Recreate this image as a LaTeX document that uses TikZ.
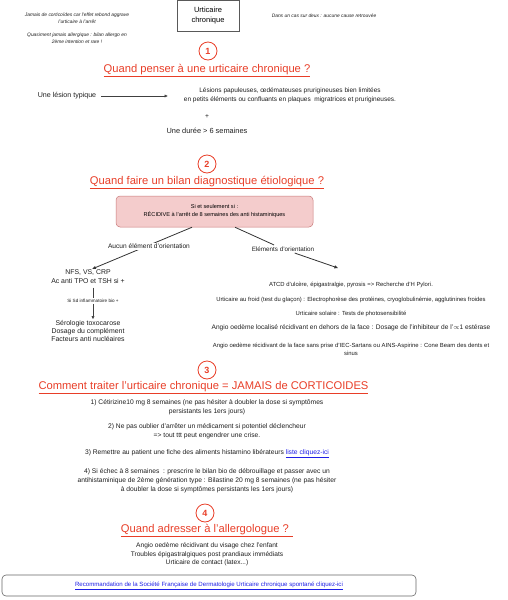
\documentclass[tikz,border=0pt]{standalone}
\usepackage{fontspec}
\setmainfont{Liberation Sans}
\usepackage{xcolor}
\usetikzlibrary{arrows.meta,positioning}
\definecolor{headred}{RGB}{232,62,40}
\definecolor{pinkfill}{RGB}{244,204,204}
\definecolor{pinkline}{RGB}{200,120,120}
\definecolor{linkblue}{RGB}{30,30,230}
\definecolor{txtgray}{RGB}{30,30,30}

\newcommand{\fs}[2]{\fontsize{#1}{#2}\selectfont}

\begin{document}
\begin{tikzpicture}[x=1pt,y=-1pt,
  txt/.style={align=center,text=txtgray,inner sep=1pt,font=\fs{6.7}{9}},
  note/.style={align=center,text=txtgray,inner sep=1pt,font=\fs{4.9}{7}\itshape},
  heading/.style={text=headred,inner sep=1pt,font=\fs{11.2}{13}},
  num/.style={circle,draw=headred,line width=0.8pt,minimum size=18pt,inner sep=0pt,
              text=headred,font=\fs{9}{10}\bfseries},
  tbox/.style={draw=black!65,line width=0.5pt,minimum width=62pt,minimum height=31pt,
               align=center,font=\fs{7.5}{10}},
  pbox/.style={draw=pinkline,fill=pinkfill,rounded corners=4pt,line width=0.5pt,
               minimum width=197pt,minimum height=31pt,align=center,font=\fs{5.6}{8}},
  lbox/.style={draw=black!60,rounded corners=4pt,line width=0.6pt,
               minimum width=414pt,minimum height=21pt,font=\fs{6.1}{8}},
  arr/.style={-{Triangle[length=3.2pt,width=2.8pt]},line width=0.6pt,draw=black!75},
  link/.style={line width=0.8pt,draw=black!80},
  lbl/.style={align=center,text=txtgray,inner sep=1.5pt}
]
\useasboundingbox (0,0) rectangle (508,600);

% header
\node[tbox] (uc) at (208,16) {Urticaire\\chronique};
\node[note] (rebond) at (77,18.5) {Jamais de corticoïdes car l'effet rebond aggrave\\l'urticaire à l'arrêt};
\node[note] (allergo) at (77,38.5) {Quasiment jamais allergique : bilan allergo en\\2ème intention et rare !};
\node[note] (cause) at (324,16) {Dans un cas sur deux : aucune cause retrouvée};

% 1
\node[num] (c1) at (208,51) {1};
\node[heading] (h1) at (207,71) {\underline{Quand penser à une urticaire chronique ?}};
\node[txt,font=\fs{7.1}{9}] (lesion) at (67,96) {Une lésion typique};
\node[txt,font=\fs{6.5}{9}] (desc) at (290,95.5) {Lésions papuleuses, œdémateuses prurigineuses bien limitées\\en petits éléments ou confluants en plaques\ \ migratrices et prurigineuses.};
\node[txt] (plus) at (207,117) {+};
\node[txt,font=\fs{7.4}{9}] (duree) at (207,131) {Une durée > 6 semaines};
\draw[arr,shorten <=4pt,shorten >=15pt] (lesion) -- (desc.west |- lesion);

% 2
\node[num] (c2) at (207,164) {2};
\node[heading] (h2) at (207,183) {\underline{Quand faire un bilan diagnostique étiologique ?}};
\node[pbox] (recid) at (214.5,211.5) {Si et seulement si :\\RÉCIDIVE à l'arrêt de 8 semaines des anti histaminiques};
\node[txt,font=\fs{6.9}{9}] (nfs) at (88,277) {NFS, VS, CRP\\Ac anti TPO et TSH si +};
\node[txt,font=\fs{4.6}{6}] (sd) at (93,301) {Si Sd inflammatoire bio +};
\node[txt,font=\fs{6.9}{8}] (sero) at (88,331) {Sérologie toxocarose\\Dosage du complément\\Facteurs anti nucléaires};
\node[txt,font=\fs{5.9}{8}] (atcd) at (351,285) {ATCD d'ulcère, épigastralgie, pyrosis => Recherche d'H Pylori.};
\draw[link,-{Triangle[length=3.6pt,width=3pt]}] (recid.215.8) -- (nfs.62);
\node[lbl,fill=white,font=\fs{6.6}{8}] (aucun) at (149,246.5) {Aucun élément d'orientation};
\node[lbl,font=\fs{6.3}{8}] (elem) at (283,249) {Eléments d'orientation};
\draw[link] ([xshift=20.5pt]recid.south) -- (elem);
\draw[link,-{Triangle[length=3.6pt,width=3pt]}] (elem) -- ([xshift=-13pt,yshift=13pt]atcd.north);
\draw[line width=0.6pt,draw=black!75,shorten <=2.5pt] (nfs.south -| sd.north) -- (sd.north);
\draw[arr] (sd.south) -- (sero.north -| sd.south);

\node[txt,font=\fs{5.9}{8}] (froid) at (351,300) {Urticaire au froid (test du glaçon) : Electrophorèse des protéines, cryoglobulinémie, agglutinines froides};
\node[txt,font=\fs{5.9}{8}] (solaire) at (351,314) {Urticaire solaire : Tests de photosensibilité};
\node[txt,font=\fs{6.6}{8}] (angio1) at (351,328) {Angio oedème localisé récidivant en dehors de la face : Dosage de l'inhibiteur de l'$\propto$1 estérase};
\node[txt,font=\fs{5.9}{7.5}] (angio2) at (351,349.5) {Angio oedème récidivant de la face sans prise d'IEC-Sartans ou AINS-Aspirine : Cone Beam des dents et\\sinus};

% 3
\node[num] (c3) at (207,370) {3};
\node[heading] (h3) at (203.5,388) {\underline{Comment traiter l'urticaire chronique = JAMAIS de CORTICOIDES}};
\node[txt] (t1) at (207,407.5) {1) Cétirizine10 mg 8 semaines (ne pas hésiter à doubler la dose si symptômes\\persistants les 1ers jours)};
\node[txt] (t2) at (207,431.5) {2) Ne pas oublier d'arrêter un médicament si potentiel déclencheur\\=> tout ttt peut engendrer une crise.};
\node[txt] (t3) at (207,454) {3) Remettre au patient une fiche des aliments histamino libérateurs \textcolor{linkblue}{\underline{liste cliquez-ici}}};
\node[txt] (t4) at (207,481) {4) Si échec à 8 semaines\ \ : prescrire le bilan bio de débrouillage et passer avec un\\antihistaminique de 2ème génération type : Bilastine 20 mg 8 semaines (ne pas hésiter\\à doubler la dose si symptômes persistants les 1ers jours)};

% 4
\node[num] (c4) at (205,513) {4};
\node[heading] (h4) at (207,531) {\underline{Quand adresser à l'allergologue ? }};
\node[txt,font=\fs{6.6}{8.5}] (allerg) at (207,554.5) {Angio oedème récidivant du visage chez l'enfant\\Troubles épigastralgiques post prandiaux immédiats\\Urticaire de contact (latex...)};
\node[lbox] (reco) at (209,585.5) {\textcolor{linkblue}{\underline{Recommandation de la Société Française de Dermatologie Urticaire chronique spontané cliquez-ici}}};
\end{tikzpicture}
\end{document}
